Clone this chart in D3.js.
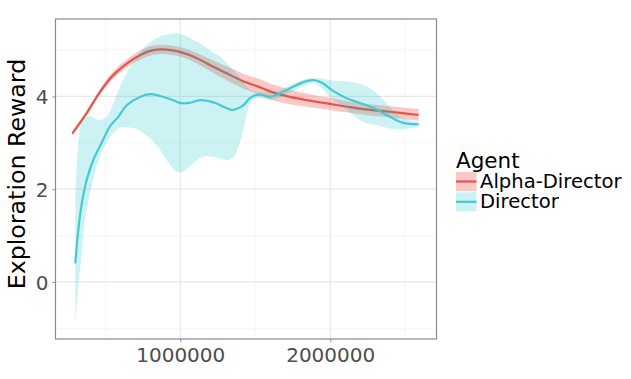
<!DOCTYPE html>
<html>
<head>
<meta charset="utf-8">
<script src="https://cdn.jsdelivr.net/npm/d3@7"></script>
<style>
  body { margin: 0; background: #fff; }
  svg { display: block; font-family: "DejaVu Sans", sans-serif; }
</style>
</head>
<body>
<svg id="chart" width="631" height="379"></svg>
<script>
// --- DATA ---
const agents = ["Alpha-Director", "Director"];
const xTicks = [1000000, 2000000];
const xMinor = [500000, 1500000, 2500000];
const yTicks = [0, 2, 4];
const yMinor = [-1, 1, 3, 5];

// Alpha-Director smoothed mean and band
const alphaX = [280000, 376000, 465000, 553000, 643000, 731000, 820000, 909000, 998000, 1087000, 1198000,
  1309000, 1420000, 1531000, 1598000, 1731000, 1865000, 1998000, 2131000, 2265000, 2398000, 2590000];
const alphaY = [3.20, 3.64, 4.10, 4.46, 4.71, 4.89, 5.00, 5.01, 4.96, 4.86, 4.68,
  4.50, 4.33, 4.20, 4.11, 3.99, 3.91, 3.84, 3.77, 3.71, 3.67, 3.60];
const alphaLo = [3.16, 3.59, 4.04, 4.38, 4.62, 4.79, 4.90, 4.91, 4.86, 4.75, 4.55,
  4.35, 4.17, 4.03, 3.94, 3.83, 3.77, 3.71, 3.65, 3.59, 3.55, 3.47];
const alphaHi = [3.24, 3.69, 4.16, 4.54, 4.80, 4.99, 5.10, 5.11, 5.06, 4.97, 4.81,
  4.65, 4.49, 4.37, 4.28, 4.15, 4.05, 3.97, 3.89, 3.83, 3.79, 3.73];

// Director smoothed mean
const dirX = [300000, 320000, 343000, 376000, 420000, 476000, 530000, 587000, 643000, 731000, 798000, 865000,
  953000, 998000, 1060000, 1131000, 1190000, 1243000, 1300000, 1343000, 1380000, 1420000, 1460000, 1487000,
  1531000, 1598000, 1665000, 1753000, 1843000, 1898000, 1953000, 2020000, 2109000, 2198000, 2309000, 2398000,
  2487000, 2590000];
const dirY = [0.40, 1.12, 1.69, 2.20, 2.63, 3.00, 3.35, 3.56, 3.81, 3.99, 4.05, 4.01,
  3.92, 3.86, 3.86, 3.92, 3.90, 3.85, 3.76, 3.71, 3.74, 3.81, 3.95, 4.01,
  4.04, 3.99, 4.07, 4.21, 4.33, 4.35, 4.28, 4.12, 3.96, 3.86, 3.72, 3.56,
  3.43, 3.40];

// Director band
const dirBandX = [300000, 320000, 343000, 365000, 398000, 430000, 465000, 509000, 553000, 598000, 643000,
  709000, 776000, 843000, 909000, 976000, 1020000, 1087000, 1153000, 1220000, 1265000, 1309000, 1353000,
  1398000, 1420000, 1443000, 1465000, 1498000, 1531000, 1598000, 1665000, 1753000, 1843000, 1898000,
  1953000, 1998000, 2109000, 2220000, 2309000, 2398000, 2487000, 2590000];
const dirHi = [1.70, 3.00, 3.45, 3.54, 3.58, 3.52, 3.49, 3.56, 3.85, 4.21, 4.50,
  4.86, 5.11, 5.26, 5.33, 5.36, 5.33, 5.22, 5.10, 4.95, 4.86, 4.72, 4.57,
  4.40, 4.30, 4.21, 4.14, 4.10, 4.10, 4.08, 4.14, 4.28, 4.38, 4.39,
  4.38, 4.35, 4.32, 4.25, 4.07, 3.78, 3.53, 3.45];
const dirLo = [-0.89, -0.10, 0.62, 1.34, 1.90, 2.35, 2.70, 3.00, 3.20, 3.33, 3.33,
  3.30, 3.15, 2.95, 2.63, 2.38, 2.38, 2.56, 2.70, 2.70, 2.66, 2.63, 2.68,
  3.00, 3.28, 3.60, 3.85, 3.95, 3.97, 3.92, 3.98, 4.12, 4.25, 4.28,
  4.15, 3.99, 3.71, 3.45, 3.38, 3.31, 3.29, 3.35];

const lineColors = ["#E0574F", "#47C9D1"];
const bandColors = ["#F8766D", "#00BFC4"];

// --- LAYOUT ---
const svg = d3.select("#chart");
const panel = { left: 55.5, right: 436.5, top: 19, bottom: 339 };

const x = d3.scaleLinear().domain([168000, 2709000]).range([panel.left, panel.right]);
const y = d3.scaleLinear().domain([-1.23, 5.67]).range([panel.bottom, panel.top]);

const g = svg.append("g");

// grid
g.selectAll("line.xminor").data(xMinor).join("line")
  .attr("x1", d => x(d)).attr("x2", d => x(d)).attr("y1", panel.top).attr("y2", panel.bottom)
  .attr("stroke", "#F4F4F4").attr("stroke-width", 0.8);
g.selectAll("line.yminor").data(yMinor).join("line")
  .attr("y1", d => y(d)).attr("y2", d => y(d)).attr("x1", panel.left).attr("x2", panel.right)
  .attr("stroke", "#F4F4F4").attr("stroke-width", 0.8);
g.selectAll("line.xmajor").data(xTicks).join("line")
  .attr("x1", d => x(d)).attr("x2", d => x(d)).attr("y1", panel.top).attr("y2", panel.bottom)
  .attr("stroke", "#E8E8E8").attr("stroke-width", 1.2);
g.selectAll("line.ymajor").data(yTicks).join("line")
  .attr("y1", d => y(d)).attr("y2", d => y(d)).attr("x1", panel.left).attr("x2", panel.right)
  .attr("stroke", "#E8E8E8").attr("stroke-width", 1.2);

// series
const curve = d3.curveCatmullRom.alpha(0.5);
const area = d3.area().curve(curve)
  .x(d => x(d[0])).y0(d => y(d[1])).y1(d => y(d[2]));
const line = d3.line().curve(curve)
  .x(d => x(d[0])).y(d => y(d[1]));

const alphaBand = alphaX.map((v, i) => [v, alphaLo[i], alphaHi[i]]);
const alphaLine = alphaX.map((v, i) => [v, alphaY[i]]);
const dirBand = dirBandX.map((v, i) => [v, dirLo[i], dirHi[i]]);
const dirLine = dirX.map((v, i) => [v, dirY[i]]);

g.append("path").attr("d", area(alphaBand)).attr("fill", bandColors[0]).attr("fill-opacity", 0.4);
g.append("path").attr("d", line(alphaLine)).attr("fill", "none")
  .attr("stroke", lineColors[0]).attr("stroke-width", 2.2);
g.append("path").attr("d", area(dirBand)).attr("fill", bandColors[1]).attr("fill-opacity", 0.2);
g.append("path").attr("d", line(dirLine)).attr("fill", "none")
  .attr("stroke", lineColors[1]).attr("stroke-width", 2.2);

// panel border
g.append("rect")
  .attr("x", panel.left).attr("y", panel.top)
  .attr("width", panel.right - panel.left).attr("height", panel.bottom - panel.top)
  .attr("fill", "none").attr("stroke", "#8A8A8A").attr("stroke-width", 1.2);

// axes
const xAxis = svg.append("g").attr("transform", `translate(0,${panel.bottom})`)
  .call(d3.axisBottom(x).tickValues(xTicks).tickFormat(d3.format("d")).tickSize(3).tickPadding(5));
const yAxis = svg.append("g").attr("transform", `translate(${panel.left},0)`)
  .call(d3.axisLeft(y).tickValues(yTicks).tickFormat(d3.format("d")).tickSize(3).tickPadding(5));
[xAxis, yAxis].forEach(a => {
  a.select(".domain").remove();
  a.selectAll(".tick line").attr("stroke", "#8A8A8A");
  a.selectAll(".tick text").attr("fill", "#4D4D4D")
    .style("font-family", "DejaVu Sans").style("font-size", "20px");
});
xAxis.selectAll(".tick text").attr("dy", null).attr("y", 22.5);
yAxis.selectAll(".tick text").attr("dy", "0.36em").attr("x", -7);

// y title
svg.append("text")
  .attr("transform", "translate(24.5,174) rotate(-90)")
  .attr("text-anchor", "middle")
  .style("font-size", "23.7px").attr("fill", "#000")
  .text("Exploration Reward");

// legend
const legend = svg.append("g").attr("transform", "translate(456,0)");
legend.append("text").attr("x", 0).attr("y", 168)
  .style("font-size", "21.5px").attr("fill", "#000").text("Agent");
agents.forEach((name, i) => {
  const top = 172 + i * 20.3;
  legend.append("rect").attr("x", 0).attr("y", top).attr("width", 20.5).attr("height", 19)
    .attr("fill", bandColors[i]).attr("fill-opacity", i === 0 ? 0.4 : 0.2);
  legend.append("line").attr("x1", 0).attr("x2", 20.5)
    .attr("y1", top + 9.5).attr("y2", top + 9.5)
    .attr("stroke", lineColors[i]).attr("stroke-width", 2.2);
  legend.append("text").attr("x", 24).attr("y", top + 16)
    .style("font-size", "19.6px").attr("fill", "#000").text(name);
});
</script>
</body>
</html>
